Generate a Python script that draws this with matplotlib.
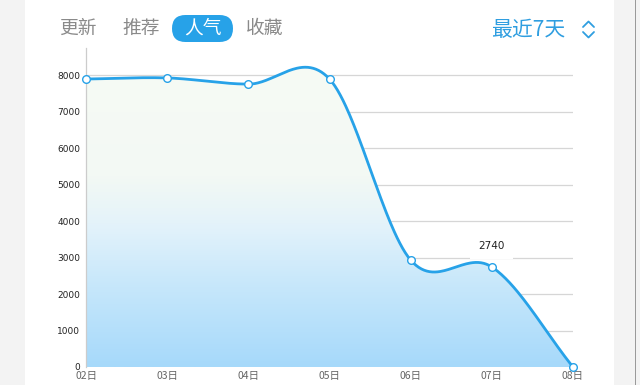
import numpy as np
import matplotlib
matplotlib.use("Agg")
import matplotlib.pyplot as plt
from matplotlib.colors import LinearSegmentedColormap
from matplotlib.patches import FancyBboxPatch, Rectangle

plt.rcParams['font.family'] = ['Noto Sans CJK SC', 'DejaVu Sans']

# data
days = ["02日", "03日", "04日", "05日", "06日", "07日", "08日"]
views = [7890, 7920, 7750, 7890, 2930, 2740, 0]
yticks = [0, 1000, 2000, 3000, 4000, 5000, 6000, 7000, 8000]
tabs = ["更新", "推荐", "人气", "收藏"]
active_tab = "人气"
range_label = "最近7天"
highlight_idx = 5

BLUE = "#27a2e8"


def catmull_rom(x, y, n=60):
    # smooth the drawn line through the points (cardinal spline, tension 0)
    x = np.asarray(x, float)
    y = np.asarray(y, float)
    k = len(y)
    m = np.zeros(k)
    m[0] = y[1] - y[0]
    m[-1] = y[-1] - y[-2]
    m[1:-1] = (y[2:] - y[:-2]) / 2
    xs_all, ys_all = [], []
    for i in range(k - 1):
        t = np.linspace(0, 1, n, endpoint=(i == k - 2))
        h00 = 2 * t**3 - 3 * t**2 + 1
        h10 = t**3 - 2 * t**2 + t
        h01 = -2 * t**3 + 3 * t**2
        h11 = t**3 - t**2
        xs_all.append(x[i] + t * (x[i + 1] - x[i]))
        ys_all.append(h00 * y[i] + h10 * m[i] + h01 * y[i + 1] + h11 * m[i + 1])
    return np.concatenate(xs_all), np.concatenate(ys_all)


fig = plt.figure(figsize=(6.4, 3.85), dpi=100)

# background / header drawn in pixel coordinates
bg = fig.add_axes([0, 0, 1, 1], zorder=0)
bg.set_xlim(0, 640)
bg.set_ylim(385, 0)
bg.axis("off")
bg.add_patch(Rectangle((0, 0), 25, 385, color="#f3f3f3", lw=0))
bg.add_patch(Rectangle((614, 0), 26, 385, color="#f3f3f3", lw=0))
bg.add_patch(Rectangle((634.5, 0), 1.5, 385, color="#9a9a9a", lw=0))

tab_x = [78, 141, 203, 265]
for name, tx in zip(tabs, tab_x):
    if name == active_tab:
        bg.add_patch(FancyBboxPatch((172, 15), 61, 27,
                                    boxstyle="round,pad=0,rounding_size=13.5",
                                    fc=BLUE, ec="none"))
        bg.text(tx, 28.5, name, color="white", fontsize=13.5, ha="center", va="center")
    else:
        bg.text(tx, 28.5, name, color="#8a8a8a", fontsize=13.5, ha="center", va="center")

bg.text(528, 30, range_label, color="#2f9ee0", fontsize=15, ha="center", va="center")
bg.plot([583, 588.5, 594], [27, 21.5, 27], color="#2f9ee0", lw=1.3, solid_capstyle="round")
bg.plot([583, 588.5, 594], [32, 37.5, 32], color="#2f9ee0", lw=1.3, solid_capstyle="round")

# main chart
ax = fig.add_axes([86 / 640, 18 / 385, (573 - 86) / 640, (367 - 48) / 385], zorder=1)
ax.patch.set_alpha(0)
x = np.arange(len(days))
ymax = 8740
ax.set_xlim(0, len(days) - 1)
ax.set_ylim(0, ymax)

for v in yticks:
    ax.axhline(v, color="#d6d6d6", lw=0.9, zorder=1)

xs, ys = catmull_rom(x, views)

cmap = LinearSegmentedColormap.from_list(
    "fill", [(0, "#a6d9fa"), (0.25, "#c6e7fb"), (0.45, "#e4f3fa"), (0.6, "#f3f9f4"), (1, "#f7fbf5")])
grad = np.linspace(0, 1, 256).reshape(-1, 1)
im = ax.imshow(grad, extent=[0, len(days) - 1, 0, ymax], origin="lower",
               aspect="auto", cmap=cmap, zorder=2)
poly = ax.fill_between(xs, 0, ys, color="none", lw=0)
im.set_clip_path(poly.get_paths()[0], transform=ax.transData)

ax.plot(xs, ys, color=BLUE, lw=2.0, zorder=4, clip_on=False)
ax.plot(x, views, "o", ms=5.5, mfc="white", mec=BLUE, mew=1.0, zorder=5, clip_on=False)

ax.annotate(str(views[highlight_idx]), (x[highlight_idx], views[highlight_idx]),
            xytext=(0, 15), textcoords="offset points", ha="center", va="center",
            fontsize=7.5, color="#222222", family=["DejaVu Sans"],
            bbox=dict(boxstyle="square,pad=0.8", fc="white", ec="none"), zorder=6)

ax.set_yticks(yticks)
ax.set_yticklabels([str(v) for v in yticks], fontsize=6.5, color="#222222",
                   family=["DejaVu Sans"])
ax.set_xticks(x)
ax.set_xticklabels(days, fontsize=7.5, color="#666666")
ax.tick_params(axis="y", length=0, pad=4)
ax.tick_params(axis="x", length=0, pad=3)
for s in ["top", "right", "bottom"]:
    ax.spines[s].set_visible(False)
ax.spines["left"].set_color("#cccccc")
ax.spines["left"].set_linewidth(0.9)

plt.savefig("out.png", dpi=100)
